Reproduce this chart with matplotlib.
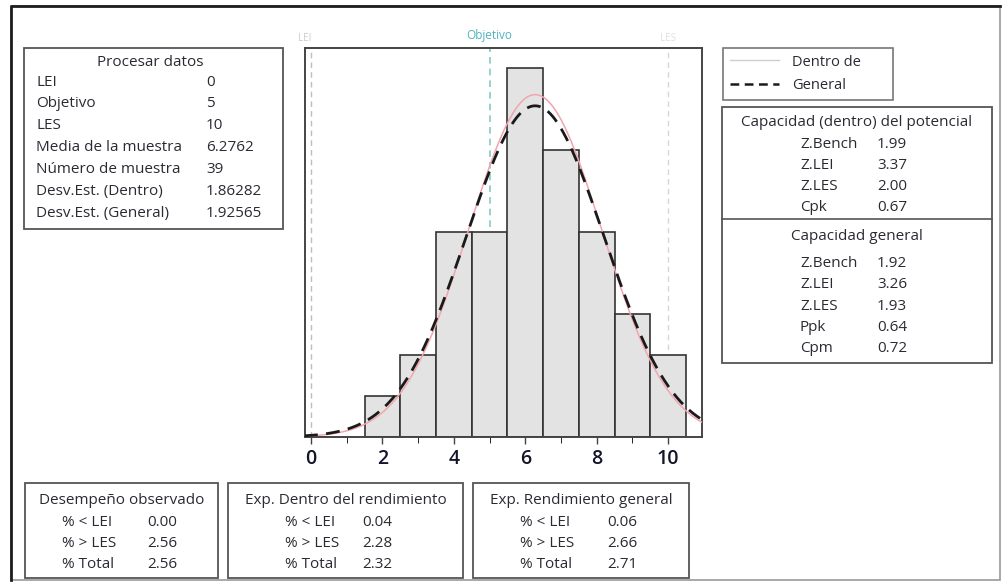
"""
Process capability report (Minitab style) rebuilt with matplotlib -> out.png
"""
import matplotlib
matplotlib.use("Agg")
import matplotlib.pyplot as plt
import numpy as np
from matplotlib.patches import Rectangle
from matplotlib.lines import Line2D

W, H = 1003, 584

# histogram
bin_centers = [2, 3, 4, 5, 6, 7, 8, 9, 10]
counts = [1, 2, 5, 5, 9, 7, 5, 3, 2]

# spec limits / sample stats
lei = 0
objetivo = 5
les = 10
media = 6.2762
n_muestra = 39
sd_dentro = 1.86282
sd_general = 1.92565

proc_labels = ["LEI", "Objetivo", "LES", "Media de la muestra", "Número de muestra",
               "Desv.Est. (Dentro)", "Desv.Est. (General)"]
proc_values = ["0", "5", "10", "6.2762", "39", "1.86282", "1.92565"]

pot_labels = ["Z.Bench", "Z.LEI", "Z.LES", "Cpk"]
pot_values = ["1.99", "3.37", "2.00", "0.67"]
gen_labels = ["Z.Bench", "Z.LEI", "Z.LES", "Ppk", "Cpm"]
gen_values = ["1.92", "3.26", "1.93", "0.64", "0.72"]

perf_titles = ["Desempeño observado", "Exp. Dentro del rendimiento", "Exp. Rendimiento general"]
perf_labels = ["% < LEI", "% > LES", "% Total"]
perf_values = [["0.00", "2.56", "2.56"],
               ["0.04", "2.28", "2.32"],
               ["0.06", "2.66", "2.71"]]

TXT = "#2a2a33"
EDGE = "#555555"
FS = 11.0
plt.rcParams["font.family"] = ["Open Sans", "DejaVu Sans"]


def fx(x):
    return x / W


def fy(y):
    return 1 - y / H


def box(fig, x0, y0, x1, y1, lw=1.3, color=EDGE):
    fig.patches.append(Rectangle((fx(x0), fy(y1)), fx(x1 - x0), (y1 - y0) / H,
                                 transform=fig.transFigure, fill=False,
                                 edgecolor=color, linewidth=lw))


def txt(fig, x, y, s, ha="left", **kw):
    fig.text(fx(x), fy(y), s, ha=ha, va="center", fontsize=FS, color=TXT, **kw)


fig = plt.figure(figsize=(W / 100, H / 100), dpi=100)

# outer frame: dark top/left, lighter right/bottom
box(fig, 11, 6, 1000, 580, lw=1.2, color="#9a9a9a")
fig.add_artist(Line2D([fx(11), fx(11), fx(1000)], [fy(580), fy(6), fy(6)],
                      transform=fig.transFigure, color="#1e1e1e", linewidth=2.0))

# main histogram
ax = fig.add_axes([fx(305), fy(437), fx(702 - 305), (437 - 48) / H])
ax.bar(bin_centers, counts, width=1.0, color="#e3e3e3", edgecolor="#333333", linewidth=1.2, zorder=2)
xs = np.linspace(-0.2, 11, 400)
pdf_in = n_muestra / (sd_dentro * np.sqrt(2 * np.pi)) * np.exp(-0.5 * ((xs - media) / sd_dentro) ** 2)
pdf_gen = n_muestra / (sd_general * np.sqrt(2 * np.pi)) * np.exp(-0.5 * ((xs - media) / sd_general) ** 2)
ax.plot(xs, pdf_in, color="#f2a5ad", linewidth=1.1, zorder=3, label="Dentro de")
ax.plot(xs, pdf_gen, color="#1a1a1a", linewidth=2.0, dashes=(5, 3), zorder=4, label="General")
ax.axvline(lei, color="#bdbdbd", linestyle=(0, (4, 3)), linewidth=1.0, zorder=1)
ax.axvline(objetivo, color="#86c8c8", linestyle=(0, (4, 3)), linewidth=1.2, zorder=1)
ax.axvline(les, color="#d6d6d6", linestyle=(0, (4, 3)), linewidth=1.0, zorder=1)
ax.set_xlim(-0.17, 10.95)
ax.set_ylim(0, 9.49)
ax.set_yticks([])
ax.set_xticks([0, 2, 4, 6, 8, 10])
ax.set_xticks([1, 3, 5, 7, 9], minor=True)
ax.tick_params(axis="x", labelsize=14, labelcolor="#15152a", colors="#444444",
               length=5, width=1.0, pad=4)
ax.tick_params(axis="x", which="minor", length=4)
for lbl in ax.get_xticklabels():
    lbl.set_fontweight("semibold")
for s in ax.spines.values():
    s.set_color("#444444")
    s.set_linewidth(1.4)
ax.text(lei, 1.01, "LEI", transform=ax.get_xaxis_transform(), ha="right", va="bottom",
        fontsize=7, color="#cccccc")
ax.text(objetivo, 1.015, "Objetivo", transform=ax.get_xaxis_transform(), ha="center", va="bottom",
        fontsize=8.5, color="#4fb3c0")
ax.text(les, 1.01, "LES", transform=ax.get_xaxis_transform(), ha="center", va="bottom",
        fontsize=7, color="#e0e0e0")

# legend
handles = [Line2D([], [], color="#cfcfcf", linewidth=1.0),
           Line2D([], [], color="#1a1a1a", linewidth=1.8, dashes=(3.5, 2.2))]
leg = fig.legend(handles, ["Dentro de", "General"], loc="upper left",
                 bbox_to_anchor=(fx(723), fy(100), fx(893 - 723), 52 / H), mode="expand",
                 frameon=True, fancybox=False, fontsize=10.5, handlelength=3.4,
                 borderpad=0.45, labelspacing=0.6, handletextpad=0.9, borderaxespad=0)
leg.get_frame().set_edgecolor(EDGE)
leg.get_frame().set_linewidth(1.2)
for t in leg.get_texts():
    t.set_color(TXT)

# Procesar datos
box(fig, 24, 48, 283, 229)
txt(fig, 150, 62, "Procesar datos", ha="center")
for i, (lab, val) in enumerate(zip(proc_labels, proc_values)):
    y = 82 + i * 21.9
    txt(fig, 36, y, lab)
    txt(fig, 206, y, val)

# capability box
box(fig, 722, 107, 992, 363)
fig.add_artist(Line2D([fx(722), fx(992)], [fy(219), fy(219)], transform=fig.transFigure,
                      color=EDGE, linewidth=1.2))
txt(fig, 857, 123, "Capacidad (dentro) del potencial", ha="center")
for i, (lab, val) in enumerate(zip(pot_labels, pot_values)):
    y = 144 + i * 21.3
    txt(fig, 800, y, lab)
    txt(fig, 877, y, val)
txt(fig, 857, 236, "Capacidad general", ha="center")
for i, (lab, val) in enumerate(zip(gen_labels, gen_values)):
    y = 263 + i * 21.5
    txt(fig, 800, y, lab)
    txt(fig, 877, y, val)

# bottom performance boxes
bx = [(25, 218), (228, 463), (473, 689)]
lab_x = [62, 285, 520]
val_x = [147, 362, 607]
for k in range(3):
    x0, x1 = bx[k]
    box(fig, x0, 483, x1, 578)
    txt(fig, (x0 + x1) / 2, 501, perf_titles[k], ha="center")
    for i, lab in enumerate(perf_labels):
        y = 522 + i * 21.5
        txt(fig, lab_x[k], y, lab)
        txt(fig, val_x[k], y, perf_values[k][i])

fig.savefig("out.png", dpi=100)
